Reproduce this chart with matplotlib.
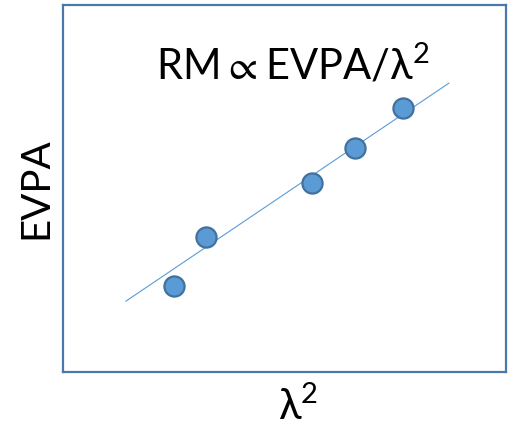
import matplotlib
matplotlib.use("Agg")
import matplotlib.pyplot as plt

# measured values (arbitrary units, axes span 0..10)
lam2 = [2.51, 3.23, 5.62, 6.59, 7.67]
evpa = [2.34, 3.68, 5.15, 6.10, 7.19]

# fitted line ends
fit_x = [1.42, 8.71]
fit_y = [1.93, 7.87]

plt.rcParams['font.family'] = ['Lato', 'DejaVu Sans']
plt.rcParams['mathtext.fontset'] = 'custom'
plt.rcParams['mathtext.rm'] = 'Lato'
plt.rcParams['mathtext.fallback'] = 'stixsans'

fig = plt.figure(figsize=(5.1, 4.26), dpi=100)
ax = fig.add_axes([63 / 510, 54 / 426, 443 / 510, 367 / 426])

ax.plot(fit_x, fit_y, '-', color='#5b9bd5', lw=0.8, zorder=2)
ax.plot(lam2, evpa, 'o', ms=14.5, mfc='#5b9bd5', mec='#41719c', mew=1.6, zorder=3)

ax.set_xlim(0, 10)
ax.set_ylim(0, 10)
ax.set_xticks([])
ax.set_yticks([])
for s in ax.spines.values():
    s.set_color('#4a78a8')
    s.set_linewidth(1.6)

ax.text(0.52, 0.796, r'$\mathregular{RM\propto EVPA/\lambda^2}$', transform=ax.transAxes,
        ha='center', va='baseline', fontsize=30)
ax.text(0.53, -0.13, r'$\mathregular{\lambda^2}$', transform=ax.transAxes,
        ha='center', va='baseline', fontsize=30)
ax.set_ylabel('EVPA', fontsize=29, labelpad=6)

fig.savefig('out.png', dpi=100)
